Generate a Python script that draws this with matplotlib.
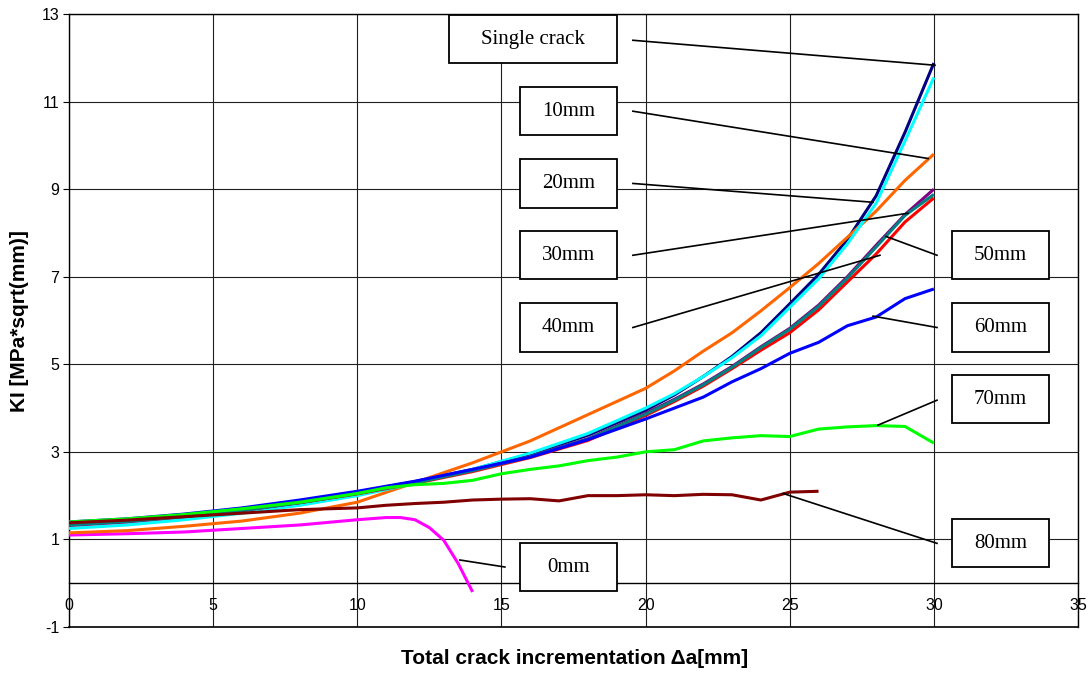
import matplotlib
matplotlib.use("Agg")
import matplotlib.pyplot as plt
from matplotlib.patches import Rectangle

# crack increment (mm) sampling used by most series
x_main = [0, 2, 4, 6, 8, 10, 12, 14, 16, 18, 20, 21, 22, 23, 24, 25, 26, 27, 28, 29, 30]

single_crack = [1.36, 1.44, 1.56, 1.70, 1.87, 2.08, 2.32, 2.60, 2.95, 3.38, 3.95, 4.30, 4.72, 5.18,
                5.72, 6.38, 7.05, 7.85, 8.85, 10.30, 11.88]
mm10 = [1.15, 1.20, 1.30, 1.42, 1.60, 1.85, 2.30, 2.75, 3.25, 3.85, 4.45, 4.85, 5.30, 5.72,
        6.22, 6.75, 7.30, 7.90, 8.50, 9.20, 9.80]
mm20 = [1.25, 1.33, 1.45, 1.60, 1.78, 2.00, 2.28, 2.60, 2.97, 3.42, 4.00, 4.33, 4.72, 5.15,
        5.65, 6.30, 6.95, 7.75, 8.68, 10.10, 11.55]
mm30 = [1.32, 1.40, 1.52, 1.66, 1.84, 2.05, 2.30, 2.58, 2.90, 3.30, 3.88, 4.20, 4.55, 4.95,
        5.40, 5.82, 6.35, 7.00, 7.72, 8.42, 9.00]
mm40 = [1.35, 1.42, 1.53, 1.67, 1.84, 2.04, 2.28, 2.55, 2.87, 3.26, 3.83, 4.15, 4.50, 4.90,
        5.32, 5.72, 6.24, 6.88, 7.52, 8.25, 8.80]
mm50 = [1.33, 1.41, 1.52, 1.66, 1.84, 2.05, 2.29, 2.57, 2.89, 3.29, 3.86, 4.18, 4.53, 4.93,
        5.38, 5.80, 6.32, 6.97, 7.68, 8.40, 8.88]
mm60 = [1.40, 1.47, 1.58, 1.72, 1.90, 2.10, 2.33, 2.60, 2.88, 3.28, 3.75, 4.00, 4.25, 4.60,
        4.90, 5.25, 5.50, 5.88, 6.08, 6.50, 6.72]

x_70 = [0, 2, 4, 6, 8, 10, 11, 12, 13, 14, 15, 16, 17, 18, 19, 20, 21, 22, 23, 24, 25, 26, 27, 28, 29, 30]
mm70 = [1.40, 1.47, 1.57, 1.70, 1.85, 2.05, 2.18, 2.25, 2.28, 2.35, 2.50, 2.60, 2.68, 2.80, 2.88,
        3.00, 3.05, 3.25, 3.32, 3.37, 3.35, 3.52, 3.57, 3.60, 3.58, 3.20]

x_80 = [0, 2, 4, 6, 8, 10, 11, 12, 13, 14, 15, 16, 17, 18, 19, 20, 21, 22, 23, 24, 25, 26]
mm80 = [1.38, 1.44, 1.52, 1.60, 1.68, 1.72, 1.78, 1.82, 1.85, 1.90, 1.92, 1.93, 1.88, 2.00, 2.00,
        2.02, 2.00, 2.03, 2.02, 1.90, 2.08, 2.10]

x_0 = [0, 2, 4, 6, 8, 10, 11, 11.5, 12, 12.5, 13, 13.5, 14]
mm0 = [1.10, 1.13, 1.17, 1.25, 1.33, 1.45, 1.50, 1.50, 1.45, 1.27, 0.98, 0.45, -0.20]

series = [
    ("Single crack", x_main, single_crack, "#000080"),
    ("0mm", x_0, mm0, "#FF00FF"),
    ("10mm", x_main, mm10, "#FF6600"),
    ("20mm", x_main, mm20, "#00FFFF"),
    ("30mm", x_main, mm30, "#800080"),
    ("40mm", x_main, mm40, "#FF0000"),
    ("50mm", x_main, mm50, "#008080"),
    ("60mm", x_main, mm60, "#0000FF"),
    ("70mm", x_70, mm70, "#00FF00"),
    ("80mm", x_80, mm80, "#800000"),
]

# label boxes: (text, box centre, leader start, leader end on curve)
labels = [
    ("Single crack", (16.09, 12.42), (19.56, 12.40), (30.04, 11.83)),
    ("10mm", (17.33, 10.78), (19.56, 10.78), (29.80, 9.70)),
    ("20mm", (17.33, 9.13), (19.56, 9.13), (27.89, 8.70)),
    ("30mm", (17.33, 7.49), (19.56, 7.49), (29.10, 8.45)),
    ("40mm", (17.33, 5.84), (19.56, 5.84), (28.13, 7.49)),
    ("50mm", (32.31, 7.49), (30.11, 7.49), (28.34, 7.92)),
    ("60mm", (32.31, 5.84), (30.11, 5.84), (27.89, 6.10)),
    ("70mm", (32.31, 4.20), (30.11, 4.18), (28.06, 3.61)),
    ("80mm", (32.31, 0.91), (30.11, 0.91), (24.77, 2.05)),
    ("0mm", (17.33, 0.37), (15.12, 0.37), (13.56, 0.53)),
]

plt.rcParams["font.family"] = ["Liberation Sans", "DejaVu Sans"]
plt.rcParams["axes.unicode_minus"] = False

fig = plt.figure(figsize=(10.91, 6.73), dpi=100)
ax = fig.add_axes([69 / 1091, 1 - 627 / 673, (1078 - 69) / 1091, (627 - 14) / 673])

for name, xs, ys, color in series:
    ax.plot(xs, ys, color=color, lw=2.2, zorder=3, solid_capstyle="butt")

# boxes and leader lines
for text, (cx, cy), start, end in labels:
    w = 5.83 if text == "Single crack" else 3.36
    h = 1.10
    ax.add_patch(Rectangle((cx - w / 2, cy - h / 2), w, h, facecolor="white",
                           edgecolor="black", lw=1.3, zorder=5))
    ax.text(cx, cy, text, ha="center", va="center", fontsize=15,
            family="Liberation Serif", zorder=6)
    ax.plot([start[0], end[0]], [start[1], end[1]], color="black", lw=1.2, zorder=4)

ax.set_xlim(0, 35)
ax.set_ylim(-1, 13)
ax.set_xticks(range(0, 36, 5))
ax.set_yticks(range(-1, 14, 2))
ax.grid(True, color="#202020", lw=0.8, zorder=1)
ax.set_axisbelow(True)

# x axis crosses at y = 0, frame kept at -1
ax.spines["bottom"].set_position(("data", 0))
ax.axhline(-1, color="black", lw=1.2, clip_on=False, zorder=2)
for s in ["top", "right", "left", "bottom"]:
    ax.spines[s].set_color("black")
    ax.spines[s].set_linewidth(1.0)
ax.tick_params(axis="x", length=0, pad=11, labelsize=11.5)
ax.tick_params(axis="y", length=4, direction="out", pad=3, labelsize=11.5)

fig.text(575 / 1091, 1 - 658 / 673, "Total crack incrementation Δa[mm]", ha="center",
         va="center", fontsize=15, fontweight="bold")
fig.text(20 / 1091, 1 - 321 / 673, "KI [MPa*sqrt(mm)]", ha="center", va="center",
         rotation=90, fontsize=15, fontweight="bold")

fig.savefig("out.png", dpi=100)
